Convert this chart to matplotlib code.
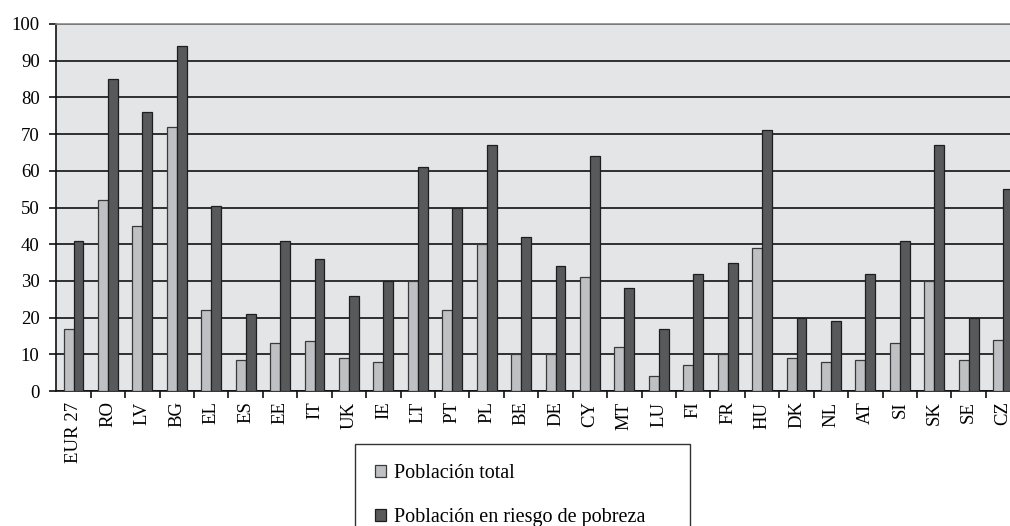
import matplotlib
matplotlib.use("Agg")
import matplotlib.pyplot as plt
from matplotlib.ticker import FixedLocator
import numpy as np

plt.rcParams['font.family'] = ['Liberation Serif', 'DejaVu Serif']

paises = ['EUR 27', 'RO', 'LV', 'BG', 'EL', 'ES', 'EE', 'IT', 'UK', 'IE', 'LT', 'PT',
          'PL', 'BE', 'DE', 'CY', 'MT', 'LU', 'FI', 'FR', 'HU', 'DK', 'NL', 'AT',
          'SI', 'SK', 'SE', 'CZ']
poblacion_total = [17, 52, 45, 72, 22, 8.5, 13, 13.5, 9, 8, 30, 22,
                   40, 10, 10, 31, 12, 4, 7, 10, 39, 9, 8, 8.5,
                   13, 30, 8.5, 14]
riesgo_pobreza = [41, 85, 76, 94, 50.5, 21, 41, 36, 26, 30, 61, 50,
                  67, 42, 34, 64, 28, 17, 32, 35, 71, 20, 19, 32,
                  41, 67, 20, 55]
etiquetas = ['Población total', 'Población en riesgo de pobreza']

fig = plt.figure(figsize=(10.10, 5.26), dpi=100)
ax = fig.add_axes([56.3 / 1010, 135 / 526, 964 / 1010, 367 / 526])
ax.set_facecolor('#e4e5e7')

x = np.arange(len(paises))
w = 0.29
ax.bar(x - w / 2, poblacion_total, w, color='#bfc0c3', edgecolor='#3a3a3a',
       linewidth=0.9, label=etiquetas[0], zorder=3)
ax.bar(x + w / 2, riesgo_pobreza, w, color='#58595b', edgecolor='#1e1e1e',
       linewidth=0.9, label=etiquetas[1], zorder=3)

ax.set_xlim(-0.5, len(paises) - 0.5)
ax.set_ylim(0, 100)
ax.set_yticks(np.arange(0, 101, 10))
ax.yaxis.grid(True, color='#111111', linewidth=1.2, zorder=1)
ax.set_axisbelow(True)

# country labels at the centres, small ticks between groups
ax.set_xticks(x)
ax.set_xticklabels(paises, rotation=90, fontsize=13.5)
ax.xaxis.set_minor_locator(FixedLocator(np.arange(0.5, len(paises) - 0.5, 1)))
ax.tick_params(axis='x', which='major', length=0, pad=7.5)
ax.tick_params(axis='x', which='minor', length=5, width=1.2, color='#111111')
ax.tick_params(axis='y', length=5, width=1.2, color='#111111', labelsize=13.5, pad=7)

for side in ['left', 'bottom']:
    ax.spines[side].set_color('#111111')
    ax.spines[side].set_linewidth(1.2)
ax.spines['top'].set_color('#8a8a8a')
ax.spines['top'].set_linewidth(1.2)
ax.spines['right'].set_color('#8a8a8a')

leg = fig.legend(loc='upper left', bbox_to_anchor=(355 / 1010, 1 - 449 / 526, 335 / 1010, 0.01),
                 mode='expand', fontsize=14.5, handlelength=0.55, handleheight=0.55,
                 handletextpad=0.4, labelspacing=1.25, borderpad=1.0,
                 fancybox=False, framealpha=1, edgecolor='#333333', borderaxespad=0)
leg.get_frame().set_linewidth(1.0)

fig.savefig('out.png', dpi=100)
